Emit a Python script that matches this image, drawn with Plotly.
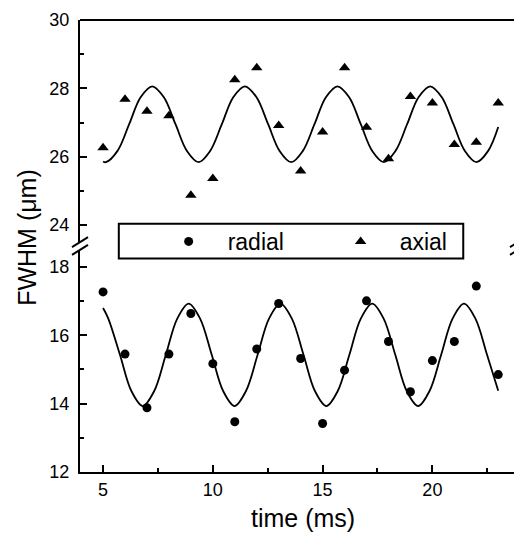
import plotly.graph_objects as go

# measured points, time in ms
time_ms = [5, 6, 7, 8, 9, 10, 11, 12, 13, 14, 15, 16, 17, 18, 19, 20, 21, 22, 23]
radial = [17.27, 15.45, 13.88, 15.45, 16.64, 15.17, 13.47, 15.60, 16.93, 15.32,
          13.42, 14.98, 17.01, 15.82, 14.35, 15.26, 15.82, 17.44, 14.85]
axial = [26.26, 27.68, 27.33, 27.20, 24.87, 25.36, 28.25, 28.60, 26.91, 25.58,
         26.72, 28.60, 26.86, 25.94, 27.76, 27.57, 26.36, 26.42, 27.57]

# fitted curves
radial_fit_t = [5.00, 5.24, 5.77, 6.29, 6.81, 7.33, 7.86, 8.38, 8.90, 9.42, 9.95,
                10.47, 10.99, 11.51, 12.04, 12.56, 13.08, 13.60, 14.13, 14.65,
                15.17, 15.69, 16.22, 16.74, 17.26, 17.78, 18.31, 18.83, 19.35,
                19.87, 20.40, 20.92, 21.44, 21.96, 22.49, 23.00]
radial_fit = [16.80, 16.49, 15.43, 14.37, 13.93, 14.37, 15.43, 16.49, 16.93, 16.49,
              15.43, 14.37, 13.93, 14.37, 15.43, 16.49, 16.93, 16.49, 15.43, 14.37,
              13.93, 14.37, 15.43, 16.49, 16.93, 16.49, 15.43, 14.37, 13.93,
              14.37, 15.43, 16.49, 16.93, 16.49, 15.43, 14.38]
axial_fit_t = [5.00, 5.13, 5.66, 6.19, 6.71, 7.24, 7.77, 8.30, 8.82, 9.35, 9.88,
               10.41, 10.93, 11.46, 11.99, 12.52, 13.04, 13.57, 14.10, 14.63,
               15.15, 15.68, 16.21, 16.74, 17.26, 17.79, 18.32, 18.85, 19.37,
               19.90, 20.43, 20.96, 21.48, 22.01, 22.54, 23.00]
axial_fit = [25.86, 25.84, 26.17, 26.95, 27.74, 28.06, 27.74, 26.95, 26.17, 25.84,
             26.17, 26.95, 27.74, 28.06, 27.74, 26.95, 26.17, 25.84, 26.17, 26.95,
             27.74, 28.06, 27.74, 26.95, 26.17, 25.84, 26.17, 26.95, 27.74,
             28.06, 27.74, 26.95, 26.17, 25.84, 26.17, 26.87]

FONT = "Liberation Sans, Arial, sans-serif"
low_dom = [0, 0.4914]
up_dom = [0.5086, 1]

fig = go.Figure()
fig.add_trace(go.Scatter(x=radial_fit_t, y=radial_fit, mode="lines", line_shape="spline",
                         line=dict(color="black", width=1.8), showlegend=False,
                         xaxis="x", yaxis="y"))
fig.add_trace(go.Scatter(x=axial_fit_t, y=axial_fit, mode="lines", line_shape="spline",
                         line=dict(color="black", width=1.8), showlegend=False,
                         xaxis="x", yaxis="y2"))
fig.add_trace(go.Scatter(x=time_ms, y=radial, mode="markers", name="radial",
                         marker=dict(symbol="circle", size=9, color="black"),
                         xaxis="x", yaxis="y"))
fig.add_trace(go.Scatter(x=time_ms, y=axial, mode="markers", name="axial",
                         marker=dict(symbol="triangle-up", size=10, color="black"),
                         xaxis="x", yaxis="y2"))

axis_common = dict(showline=True, linecolor="black", linewidth=2, ticks="inside",
                   ticklen=7, tickwidth=1.5, tickcolor="black", showgrid=False,
                   zeroline=False, ticklabeloverflow="allow",
                   tickfont=dict(family=FONT, size=18, color="black"))

# page body has an 8px margin, so the figure is 8px smaller than the window
fig.update_layout(
    width=514, height=527,
    margin=dict(l=72, r=2, t=9, b=63),
    plot_bgcolor="white", paper_bgcolor="white",
    xaxis=dict(range=[3.95, 23.9], dtick=5, tick0=0, anchor="y",
               minor=dict(dtick=2.5, ticklen=4, ticks="inside", tickcolor="black"),
               **axis_common),
    yaxis=dict(range=[12, 18.5], domain=low_dom, dtick=2, tick0=0, mirror=True,
               ticklabelstandoff=5,
               minor=dict(dtick=1, ticklen=4, ticks="inside", tickcolor="black"),
               **axis_common),
    yaxis2=dict(range=[23.5, 30], domain=up_dom, dtick=2, tick0=0, mirror=True,
                anchor="x", ticklabelstandoff=5,
                minor=dict(dtick=1, ticklen=4, ticks="inside", tickcolor="black"),
                **axis_common),
    legend=dict(orientation="h", x=0.159, y=0.51, xanchor="left", yanchor="middle",
                entrywidth=89, itemwidth=68, bgcolor="rgba(0,0,0,0)",
                font=dict(family=FONT, size=23, color="black")),
)

# top border
fig.add_shape(type="line", xref="paper", yref="paper", x0=0, x1=1, y0=1, y1=1,
              line=dict(color="black", width=2))
# legend box
fig.add_shape(type="rect", xref="paper", yref="paper", x0=0.0886, x1=0.875,
              y0=0.4725, y1=0.5495, line=dict(color="black", width=2), layer="above")
# axis break marks
for xa in [0, 1]:
    for ya in [up_dom[0], low_dom[1]]:
        fig.add_shape(type="line", xref="paper", yref="paper",
                      xsizemode="pixel", ysizemode="pixel", xanchor=xa, yanchor=ya,
                      x0=-8, x1=8, y0=-5, y1=5, line=dict(color="black", width=2))

fig.add_annotation(text="FWHM (\u03bcm)", xref="paper", yref="paper", x=-0.1227, y=0.5187,
                   textangle=-90, showarrow=False, xanchor="center", yanchor="middle",
                   font=dict(family=FONT, size=25, color="black"))
fig.add_annotation(text="time (ms)", xref="paper", yref="paper", x=0.509, y=-0.101,
                   showarrow=False, xanchor="center", yanchor="middle",
                   font=dict(family=FONT, size=25, color="black"))

fig.write_html("out.html")
